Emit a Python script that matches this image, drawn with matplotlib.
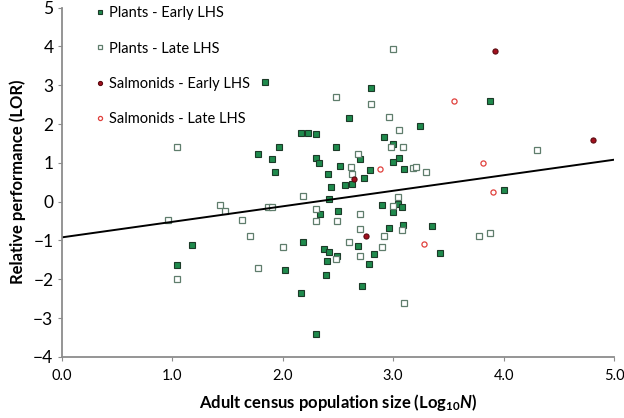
import numpy as np
import matplotlib.pyplot as plt

plt.rcParams['font.family'] = ['Lato', 'DejaVu Sans']
plt.rcParams['mathtext.fontset'] = 'custom'
plt.rcParams['mathtext.rm'] = 'Lato:bold'
plt.rcParams['mathtext.it'] = 'Lato:bold:italic'

# Plants - early LHS (log10 N, LOR)
pe_x = [1.84, 1.78, 1.90, 1.97, 2.17, 2.23, 2.30, 2.30, 1.93, 1.18, 1.04,
        2.80, 2.60, 3.24, 2.92, 3.00, 2.48, 2.33, 2.70, 3.05, 3.00, 2.52,
        2.79, 3.10, 2.41, 2.74, 2.56, 2.63, 2.44, 2.42, 2.90, 3.04, 3.08,
        2.50, 2.34, 3.00, 2.96, 3.09, 3.35, 2.18, 2.68, 3.42, 2.37, 2.42,
        2.83, 2.49, 2.40, 2.78, 2.02, 2.39, 2.72, 2.17, 2.30, 3.88, 4.00]
pe_y = [3.09, 1.22, 1.10, 1.41, 1.76, 1.77, 1.74, 1.12, 0.76, -1.11, -1.63,
        2.93, 2.16, 1.96, 1.67, 1.49, 1.40, 1.00, 1.09, 1.12, 1.01, 0.93,
        0.81, 0.83, 0.71, 0.60, 0.42, 0.45, 0.37, 0.06, -0.09, -0.07, -0.14,
        -0.24, -0.32, -0.27, -0.67, -0.60, -0.62, -1.03, -1.15, -1.33, -1.21, -1.29,
        -1.36, -1.40, -1.52, -1.61, -1.76, -1.90, -2.18, -2.36, -3.41, 2.58, 0.31]

# Plants - late LHS
pl_x = [1.04, 1.43, 1.48, 0.96, 1.63, 1.70, 1.87, 1.90, 1.04, 1.78,
        3.00, 2.48, 2.80, 2.96, 3.05, 2.98, 3.09, 2.68, 2.62, 3.18, 3.21,
        3.30, 2.63, 2.18, 3.04, 3.00, 2.30, 2.70, 2.30, 2.49, 2.70, 3.08,
        2.92, 2.00, 2.60, 2.90, 2.70, 2.48, 3.10, 4.30, 3.88, 3.78]
pl_y = [1.42, -0.09, -0.25, -0.48, -0.47, -0.89, -0.14, -0.14, -1.98, -1.72,
        3.92, 2.69, 2.52, 2.19, 1.84, 1.40, 1.41, 1.22, 0.88, 0.86, 0.88,
        0.76, 0.72, 0.14, 0.11, -0.11, -0.20, -0.32, -0.51, -0.50, -0.71, -0.74,
        -0.88, -1.16, -1.05, -1.18, -1.40, -1.48, -2.60, 1.34, -0.80, -0.88]

# Salmonids - early LHS
se_x = [2.65, 2.75, 3.92, 4.81]
se_y = [0.59, -0.89, 3.88, 1.59]

# Salmonids - late LHS
sl_x = [2.88, 3.28, 3.55, 3.81, 3.90]
sl_y = [0.83, -1.10, 2.59, 0.99, 0.26]

# trend line
trend_intercept = -0.92
trend_slope = 0.40

fig = plt.figure(figsize=(6.24, 4.18), dpi=100)
ax = fig.add_axes([0.099, 0.146, 0.885, 0.836])

ms = 3.7
ax.plot(pe_x, pe_y, 's', ms=ms, mfc='#1f8a4c', mec='#1c3a28', mew=0.8,
        ls='none', label='Plants - Early LHS')
ax.plot(pl_x, pl_y, 's', ms=ms, mfc='white', mec='#5f7d6c', mew=0.9,
        ls='none', label='Plants - Late LHS')
ax.plot(se_x, se_y, 'o', ms=ms, mfc='#a3101e', mec='#5a0a10', mew=0.8,
        ls='none', label='Salmonids - Early LHS')
ax.plot(sl_x, sl_y, 'o', ms=ms, mfc='white', mec='#e0403c', mew=0.9,
        ls='none', label='Salmonids - Late LHS')

xl = np.array([0.0, 5.0])
ax.plot(xl, trend_intercept + trend_slope * xl, color='black', lw=1.4)

ax.set_xlim(0, 5)
ax.set_ylim(-4, 5)
ax.set_xticks(np.arange(0, 5.01, 1.0))
ax.set_xticklabels(['0.0', '1.0', '2.0', '3.0', '4.0', '5.0'])
ax.set_yticks(np.arange(-4, 6, 1))

for s in ['top', 'right']:
    ax.spines[s].set_visible(False)
for s in ['left', 'bottom']:
    ax.spines[s].set_color('#8c8c8c')
    ax.spines[s].set_linewidth(1.3)
ax.tick_params(axis='both', direction='out', length=3, color='#8c8c8c')
ax.tick_params(axis='y', labelsize=12.5, pad=3)
ax.tick_params(axis='x', labelsize=10.5, pad=6)

ax.set_xlabel('Adult census population size (Log$_{10}$$\\it{N}$)',
              fontsize=12, fontweight='bold', labelpad=6)
ax.set_ylabel('Relative performance (LOR)', fontsize=12,
              fontweight='bold', labelpad=5)

ax.legend(loc='upper left', frameon=False, fontsize=10.5, labelspacing=1.45,
          handletextpad=0.15, handlelength=1.0, borderaxespad=0.0,
          bbox_to_anchor=(0.045, 1.02), markerscale=0.8)

fig.savefig('out.png', dpi=100)
